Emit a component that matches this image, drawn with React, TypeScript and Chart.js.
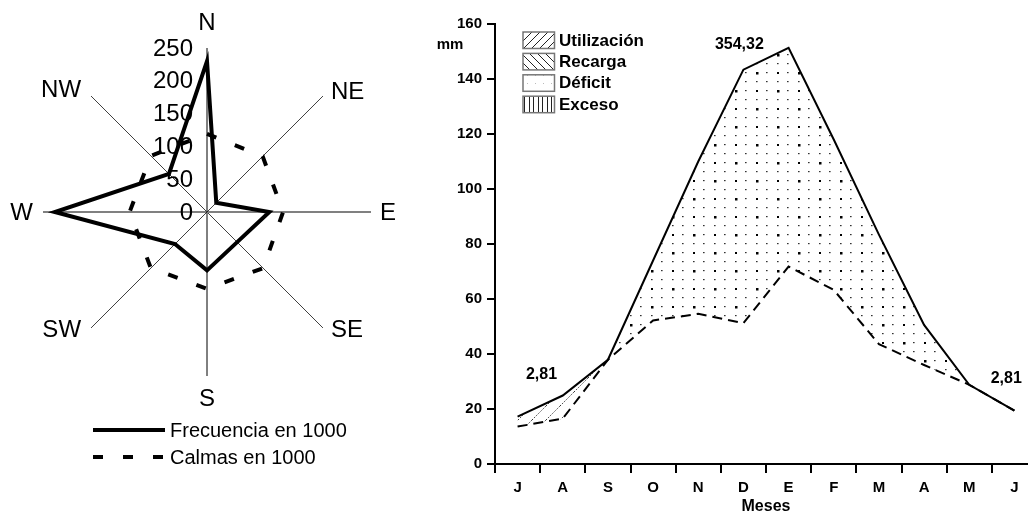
import React, { useEffect, useRef } from 'react';
import { Chart, registerables } from 'chart.js';

Chart.register(...registerables);

const FONT = '"Liberation Sans", Arial, Helvetica, sans-serif';

// ---------- Left chart: wind rose ----------
const windDirections = ['N', 'NE', 'E', 'SE', 'S', 'SW', 'W', 'NW'];
const frecuencia = [230, 20, 95, 65, 89, 69, 232, 82];
const calmas = [119, 120, 116, 121, 117, 121, 118, 121];
const radarMin = 0;
const radarMax = 250;
const radarStep = 50;

// ---------- Right chart: water balance ----------
const months = ['J', 'A', 'S', 'O', 'N', 'D', 'E', 'F', 'M', 'A', 'M', 'J'];
const etp = [17.2, 24.9, 37.9, 74, 110, 143.4, 151.3, 118, 83.4, 50.6, 28.8, 19.4];
const etr = [13.6, 16.5, 37.9, 52.2, 54.6, 51.2, 71.8, 63.3, 43.6, 36, 28.8, 19.4];
const utilizacion = [17.2, 24.9, 37.9, null, null, null, null, null, null, null, null, null];
const deficit = [null, null, 37.9, 74, 110, 143.4, 151.3, 118, 83.4, 50.6, 28.8, null];
const yMin = 0;
const yMax = 160;
const yStep = 20;
const legendItems = ['Utilización', 'Recarga', 'Déficit', 'Exceso'];
const annotationTexts = ['354,32', '2,81', '2,81'];
const annotationX = [4.91, 0.53, 10.82];
const annotationY = [152.5, 32.4, 30.9];
const yUnit = 'mm';
const xTitle = 'Meses';

function makePattern(
  ctx: CanvasRenderingContext2D,
  w: number,
  h: number,
  draw: (g: CanvasRenderingContext2D, w: number, h: number) => void
) {
  const c = document.createElement('canvas');
  c.width = w;
  c.height = h;
  const g = c.getContext('2d')!;
  draw(g, w, h);
  return ctx.createPattern(c, 'repeat')!;
}

function diag(g: CanvasRenderingContext2D, s: number, forward: boolean, color: string, dash: number[]) {
  g.strokeStyle = color;
  g.lineWidth = 1;
  g.setLineDash(dash);
  g.beginPath();
  if (forward) {
    g.moveTo(0, s); g.lineTo(s, 0);
    g.moveTo(-2, 2); g.lineTo(2, -2);
    g.moveTo(s - 2, s + 2); g.lineTo(s + 2, s - 2);
  } else {
    g.moveTo(0, 0); g.lineTo(s, s);
    g.moveTo(-2, s - 2); g.lineTo(2, s + 2);
    g.moveTo(s - 2, -2); g.lineTo(s + 2, 2);
  }
  g.stroke();
}

const radarDecor = {
  id: 'radarDecor',
  beforeDatasetsDraw(chart: any) {
    const s = chart.scales.r;
    const ctx = chart.ctx;
    ctx.save();
    ctx.font = `24px ${FONT}`;
    ctx.fillStyle = '#000';
    ctx.textAlign = 'right';
    ctx.textBaseline = 'middle';
    s.ticks.forEach((t: any) => {
      const y = s.yCenter - s.getDistanceFromCenterForValue(t.value);
      ctx.fillText(String(t.value), s.xCenter - 14, y + 1);
    });
    ctx.restore();
  },
  afterDraw(chart: any) {
    const s = chart.scales.r;
    const ctx = chart.ctx;
    const labels = chart.data.labels as string[];
    const place: [number, number, CanvasTextAlign][] = [
      [0, -26, 'center'],
      [8, -5, 'left'],
      [9, 0, 'left'],
      [8, 1, 'left'],
      [0, 22, 'center'],
      [-10, 1, 'right'],
      [-10, 0, 'right'],
      [-10, -7, 'right'],
    ];
    ctx.save();
    ctx.fillStyle = '#000';
    ctx.font = `24px ${FONT}`;
    ctx.textBaseline = 'middle';
    labels.forEach((lab, i) => {
      const p = s.getPointPosition(i, s.drawingArea);
      const [dx, dy, al] = place[i];
      ctx.textAlign = al;
      ctx.fillText(lab, p.x + dx, p.y + dy + 1);
    });
    // legend
    chart.data.datasets.forEach((ds: any, i: number) => {
      const y = 430 + i * 27;
      ctx.strokeStyle = '#000';
      ctx.lineWidth = ds.borderWidth;
      ctx.setLineDash(ds.borderDash || []);
      ctx.beginPath();
      ctx.moveTo(93, y);
      ctx.lineTo(165, y);
      ctx.stroke();
      ctx.setLineDash([]);
      ctx.font = `20px ${FONT}`;
      ctx.textAlign = 'left';
      ctx.fillText(ds.label, 170, y + 1);
    });
    ctx.restore();
  },
};

export default function App() {
  const radarRef = useRef<HTMLCanvasElement>(null);
  const lineRef = useRef<HTMLCanvasElement>(null);

  useEffect(() => {
    const radar = new Chart(radarRef.current!, {
      type: 'radar',
      data: {
        labels: windDirections,
        datasets: [
          {
            label: 'Frecuencia en 1000',
            data: frecuencia,
            borderColor: '#000',
            borderWidth: 4,
            borderJoinStyle: 'miter',
            fill: false,
            pointRadius: 0,
          },
          {
            label: 'Calmas en 1000',
            data: calmas,
            borderColor: '#000',
            borderWidth: 4,
            borderDash: [10, 20],
            fill: false,
            pointRadius: 0,
          },
        ],
      },
      options: {
        animation: false,
        responsive: false,
        maintainAspectRatio: false,
        layout: { padding: { left: 43, top: 48, right: 49, bottom: 137 } },
        plugins: { legend: { display: false }, tooltip: { enabled: false } },
        scales: {
          r: {
            min: radarMin,
            max: radarMax,
            ticks: { display: false, stepSize: radarStep },
            grid: { display: false },
            pointLabels: { display: false },
            angleLines: {
              display: true,
              color: (c: any) => (c.index % 4 === 0 ? '#000' : c.index % 4 === 2 ? '#808080' : '#404040'),
              lineWidth: (c: any) => (c.index % 4 === 2 ? 2 : 1),
            },
          },
        },
      } as any,
      plugins: [radarDecor],
    });

    const lctx = lineRef.current!.getContext('2d')!;
    const hatchFill = makePattern(lctx, 14, 14, (g, w) => diag(g, w, true, '#333', [1.5, 1.5]));
    const dotFill = makePattern(lctx, 42, 36, (g) => {
      g.fillStyle = '#333';
      for (const x of [0, 10, 21, 31]) for (const y of [0, 9, 18, 27]) g.fillRect(x, y, 1.6, 1.2);
      g.fillStyle = '#000';
      g.fillRect(0, 0, 2.5, 2.5);
      g.fillRect(21, 18, 2.5, 2.5);
      g.fillRect(21, 0, 2, 2);
      g.fillRect(0, 18, 2, 2);
    });
    const legUtil = makePattern(lctx, 8, 8, (g, w) => diag(g, w, true, '#222', []));
    const legRec = makePattern(lctx, 8, 8, (g, w) => diag(g, w, false, '#222', []));
    const legDef = makePattern(lctx, 8, 8, (g) => {
      g.fillStyle = '#bbb';
      g.fillRect(3, 3, 1, 1);
    });
    const legExc = makePattern(lctx, 9, 9, (g) => {
      g.fillStyle = '#222';
      g.fillRect(1, 0, 1, 9);
      g.fillRect(5, 0, 1, 9);
    });
    const legendPatterns = [legUtil, legRec, legDef, legExc];

    const waterDecor = {
      id: 'waterDecor',
      afterDatasetsDraw(chart: any) {
        const xs = chart.scales.x;
        const ys = chart.scales.y;
        const ctx = chart.ctx;
        const area = chart.chartArea;
        ctx.save();
        ctx.fillStyle = '#000';
        ctx.font = `bold 16px ${FONT}`;
        ctx.textAlign = 'center';
        ctx.textBaseline = 'middle';
        annotationTexts.forEach((t, i) => {
          ctx.fillText(t, xs.getPixelForValue(annotationX[i]), ys.getPixelForValue(annotationY[i]));
        });
        ctx.font = `bold 15px ${FONT}`;
        ctx.fillText(yUnit, area.left - 45, ys.getPixelForValue(152.5));
        // legend
        legendItems.forEach((t, i) => {
          const bx = area.left + 28;
          const by = area.top + 8 + i * 21.4;
          ctx.fillStyle = '#fff';
          ctx.fillRect(bx, by, 31.5, 16.5);
          ctx.fillStyle = legendPatterns[i];
          ctx.fillRect(bx, by, 31.5, 16.5);
          ctx.strokeStyle = '#777';
          ctx.lineWidth = 1.5;
          ctx.strokeRect(bx, by, 31.5, 16.5);
          ctx.fillStyle = '#000';
          ctx.font = `bold 17px ${FONT}`;
          ctx.textAlign = 'left';
          ctx.fillText(t, bx + 36, by + 9);
        });
        ctx.restore();
      },
    };

    const tickFont = { family: FONT, size: 15, weight: 'bold' as const };
    const line = new Chart(lineRef.current!, {
      type: 'line',
      data: {
        labels: months,
        datasets: [
          { label: 'ETP', data: etp, borderColor: '#000', borderWidth: 2, pointRadius: 0, fill: false },
          { label: 'ETR', data: etr, borderColor: '#000', borderWidth: 2, borderDash: [10, 6], pointRadius: 0, fill: false },
          { label: 'Utilización', data: utilizacion, borderColor: 'rgba(0,0,0,0)', borderWidth: 0, backgroundColor: hatchFill, pointRadius: 0, fill: 1 },
          { label: 'Déficit', data: deficit, borderColor: 'rgba(0,0,0,0)', borderWidth: 0, backgroundColor: dotFill, pointRadius: 0, fill: 1 },
        ],
      },
      options: {
        animation: false,
        responsive: false,
        maintainAspectRatio: false,
        layout: { padding: { left: 0, top: 24, right: 23, bottom: 0 } },
        plugins: { legend: { display: false }, tooltip: { enabled: false } },
        scales: {
          x: {
            offset: true,
            grid: { offset: true, drawOnChartArea: false, drawTicks: true, tickLength: 9, color: '#000', lineWidth: 2 },
            border: { display: true, color: '#000', width: 2 },
            ticks: { font: tickFont, color: '#000', padding: 6, maxRotation: 0, autoSkip: false },
            title: { display: true, text: xTitle, color: '#000', font: { family: FONT, size: 16, weight: 'bold', lineHeight: 1 }, padding: { top: 0, bottom: -2 } },
            afterFit: (s: any) => { s.height = 49; },
          },
          y: {
            min: yMin,
            max: yMax,
            ticks: { stepSize: yStep, font: tickFont, color: '#000', padding: 5 },
            grid: { drawOnChartArea: false, drawTicks: true, tickLength: 8, color: '#000', lineWidth: 2 },
            border: { display: true, color: '#000', width: 2 },
            afterFit: (s: any) => { s.width = 75; },
          },
        },
      } as any,
      plugins: [waterDecor],
    });

    return () => {
      radar.destroy();
      line.destroy();
    };
  }, []);

  return (
    <div style={{ position: 'fixed', left: 0, top: 0, width: 1028, height: 513, overflow: 'hidden', background: '#fff' }}>
      <canvas ref={radarRef} width={420} height={513} style={{ position: 'absolute', left: 0, top: 0, width: 420, height: 513 }} />
      <canvas ref={lineRef} width={640} height={513} style={{ position: 'absolute', left: 420, top: 0, width: 640, height: 513 }} />
    </div>
  );
}
